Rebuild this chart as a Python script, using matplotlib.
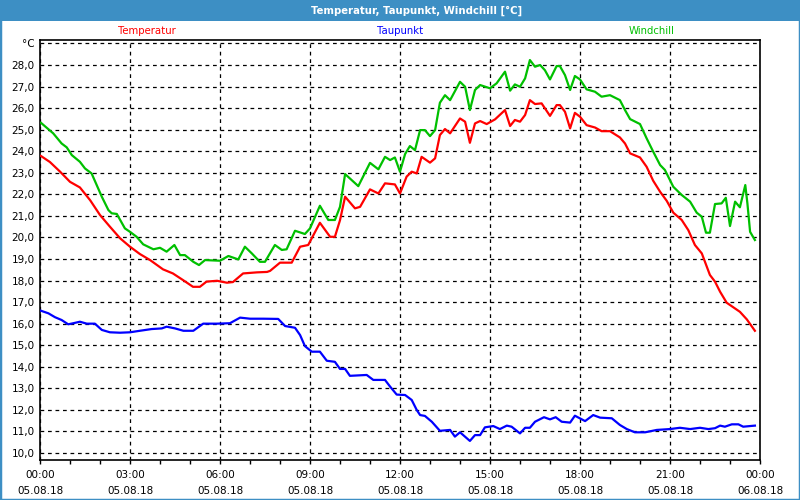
import numpy as np
import matplotlib
matplotlib.use('Agg')
import matplotlib.pyplot as plt
from matplotlib.patches import Rectangle

# values (hours since 05.08.18 00:00)
t_temp = [0.03, 0.33, 0.67, 1.0, 1.33, 1.67, 2.0, 2.33, 2.67, 3.0, 3.33, 3.67, 4.1, 4.43, 4.77,
          5.1, 5.33, 5.55, 5.9, 6.23, 6.43, 6.77, 7.23, 7.57, 7.67, 8.0, 8.39, 8.67, 8.94, 9.33,
          9.67, 9.83, 10.0, 10.17, 10.5, 10.67, 11.0, 11.28, 11.5, 11.83, 12.0, 12.22, 12.39, 12.56, 12.72,
          13.0, 13.17, 13.33, 13.5, 13.67, 14.0, 14.17, 14.33, 14.5, 14.67, 14.89, 15.17, 15.5, 15.67, 15.83,
          16.0, 16.17, 16.33, 16.5, 16.72, 17.0, 17.22, 17.33, 17.5, 17.67, 17.83, 18.0, 18.22, 18.5, 18.72,
          19.0, 19.33, 19.5, 19.67, 20.0, 20.22, 20.44, 20.67, 20.89, 21.11, 21.39, 21.61, 21.83, 22.06, 22.33,
          22.5, 22.67, 22.89, 23.11, 23.33, 23.56, 23.83]
temperatur = [23.78, 23.5, 23.05, 22.58, 22.32, 21.73, 21.04, 20.5, 19.96, 19.57, 19.23, 18.95, 18.52, 18.33, 18.02,
              17.71, 17.71, 17.95, 17.99, 17.9, 17.93, 18.33, 18.38, 18.4, 18.45, 18.83, 18.83, 19.57, 19.65, 20.68,
              20.03, 20.03, 20.8, 21.89, 21.35, 21.42, 22.23, 22.04, 22.51, 22.46, 22.04, 22.82, 23.05, 22.97, 23.74,
              23.47, 23.67, 24.75, 25.03, 24.83, 25.52, 25.37, 24.39, 25.29, 25.4, 25.26, 25.48, 25.91, 25.17, 25.45,
              25.37, 25.68, 26.37, 26.19, 26.22, 25.64, 26.14, 26.14, 25.83, 25.06, 25.78, 25.6, 25.21, 25.1, 24.93,
              24.93, 24.64, 24.36, 23.9, 23.71, 23.28, 22.63, 22.12, 21.7, 21.15, 20.81, 20.34, 19.65, 19.26, 18.26,
              17.95, 17.48, 16.97, 16.76, 16.55, 16.2, 15.67]

t_wc = [0.03, 0.44, 0.72, 0.89, 1.06, 1.33, 1.5, 1.72, 1.89, 2.06, 2.28, 2.39, 2.56, 2.83, 3.0,
        3.22, 3.44, 3.78, 4.0, 4.22, 4.48, 4.67, 4.83, 5.11, 5.3, 5.5, 6.0, 6.28, 6.61, 6.83,
        7.06, 7.33, 7.5, 7.83, 8.06, 8.22, 8.5, 8.83, 9.0, 9.33, 9.61, 9.83, 10.0, 10.17, 10.61,
        11.0, 11.28, 11.5, 11.67, 11.83, 12.0, 12.17, 12.33, 12.5, 12.67, 12.83, 13.0, 13.17, 13.33, 13.5,
        13.67, 14.0, 14.17, 14.33, 14.5, 14.67, 15.0, 15.22, 15.5, 15.67, 15.83, 16.0, 16.17, 16.33, 16.5,
        16.67, 16.83, 17.0, 17.22, 17.33, 17.5, 17.67, 17.83, 18.0, 18.22, 18.5, 18.72, 19.0, 19.33, 19.5,
        19.67, 20.0, 20.22, 20.44, 20.67, 20.83, 21.11, 21.39, 21.67, 21.89, 22.06, 22.2, 22.33, 22.5, 22.72,
        22.86, 23.0, 23.17, 23.33, 23.51, 23.58, 23.67, 23.83]
windchill = [25.32, 24.83, 24.36, 24.18, 23.82, 23.51, 23.2, 22.97, 22.43, 21.89, 21.27, 21.12, 21.09, 20.42, 20.26,
             20.03, 19.68, 19.45, 19.52, 19.34, 19.65, 19.18, 19.18, 18.87, 18.72, 18.95, 18.92, 19.14, 18.98, 19.57,
             19.26, 18.87, 18.87, 19.65, 19.42, 19.45, 20.31, 20.16, 20.42, 21.47, 20.81, 20.81, 21.42, 22.94, 22.38,
             23.46, 23.16, 23.74, 23.59, 23.71, 23.05, 23.87, 24.24, 24.05, 24.98, 24.98, 24.7, 24.98, 26.25, 26.6,
             26.37, 27.22, 26.99, 25.91, 26.84, 27.07, 26.92, 27.15, 27.69, 26.81, 27.1, 26.99, 27.38, 28.23, 27.92,
             28.0, 27.76, 27.33, 27.95, 27.95, 27.53, 26.84, 27.49, 27.33, 26.87, 26.76, 26.53, 26.6, 26.37, 25.91,
             25.49, 25.26, 24.6, 23.98, 23.36, 23.13, 22.35, 21.97, 21.66, 21.15, 20.96, 20.22, 20.22, 21.55, 21.58,
             21.84, 20.53, 21.66, 21.4, 22.43, 21.58, 20.26, 19.88]

t_dew = [0.03, 0.28, 0.5, 0.72, 0.94, 1.11, 1.33, 1.56, 1.83, 2.06, 2.33, 2.67, 3.0, 3.33, 3.72,
         4.06, 4.22, 4.5, 4.78, 5.11, 5.44, 5.89, 6.33, 6.67, 7.0, 7.44, 7.94, 8.17, 8.5, 8.67,
         8.83, 9.06, 9.33, 9.56, 9.83, 10.0, 10.17, 10.33, 10.89, 11.11, 11.5, 11.67, 11.89, 12.17, 12.39,
         12.56, 12.67, 12.83, 13.06, 13.33, 13.67, 13.83, 14.0, 14.33, 14.5, 14.67, 14.83, 15.11, 15.33, 15.56,
         15.72, 16.0, 16.17, 16.33, 16.5, 16.8, 17.0, 17.19, 17.39, 17.67, 17.83, 18.17, 18.44, 18.67, 19.06,
         19.33, 19.56, 19.83, 20.17, 20.56, 21.0, 21.33, 21.67, 22.0, 22.28, 22.5, 22.67, 22.83, 23.06, 23.28,
         23.44, 23.67, 23.83]
taupunkt = [16.6, 16.48, 16.3, 16.17, 15.97, 16.02, 16.09, 16.0, 16.0, 15.71, 15.6, 15.58, 15.6, 15.67, 15.75,
            15.78, 15.86, 15.78, 15.67, 15.67, 16.0, 16.0, 16.02, 16.28, 16.23, 16.23, 16.22, 15.89, 15.81, 15.47,
            14.96, 14.7, 14.7, 14.28, 14.23, 13.9, 13.9, 13.58, 13.62, 13.39, 13.39, 13.08, 12.71, 12.69, 12.46,
            11.99, 11.76, 11.72, 11.45, 11.03, 11.07, 10.76, 10.96, 10.56, 10.83, 10.83, 11.19, 11.25, 11.11, 11.27,
            11.22, 10.91, 11.17, 11.17, 11.45, 11.66, 11.56, 11.66, 11.45, 11.41, 11.73, 11.48, 11.76, 11.64, 11.61,
            11.3, 11.11, 10.96, 10.96, 11.07, 11.11, 11.17, 11.11, 11.17, 11.11, 11.15, 11.27, 11.22, 11.33, 11.33,
            11.22, 11.25, 11.27]

x_ticks = [0, 3, 6, 9, 12, 15, 18, 21, 24]
x_labels = ['00:00\n05.08.18', '03:00\n05.08.18', '06:00\n05.08.18', '09:00\n05.08.18', '12:00\n05.08.18',
            '15:00\n05.08.18', '18:00\n05.08.18', '21:00\n05.08.18', '00:00\n06.08.18']
y_ticks = list(range(10, 30))
y_labels = ['%d,0' % v for v in y_ticks[:-1]] + ['°C']

bar_color = '#3d8fc4'

fig = plt.figure(figsize=(8, 5), dpi=100)
fig.patch.set_facecolor('white')

# title bar and outer frame
fig.patches.append(Rectangle((0, 1 - 21 / 500), 1, 21 / 500, transform=fig.transFigure,
                             facecolor=bar_color, edgecolor='none', zorder=0))
fig.patches.append(Rectangle((0, 0), 1, 1, transform=fig.transFigure, fill=False,
                             edgecolor=bar_color, linewidth=2.5, zorder=5))
fig.text(417 / 800, 1 - 10.5 / 500, 'Temperatur, Taupunkt, Windchill [°C]', color='white',
         fontsize=7.3, fontweight='bold', ha='center', va='center')

# series names above the plot
fig.text(147 / 800, 1 - 31 / 500, 'Temperatur', color='#ff0000', fontsize=7.3, ha='center', va='center')
fig.text(400 / 800, 1 - 31 / 500, 'Taupunkt', color='#0000ff', fontsize=7.3, ha='center', va='center')
fig.text(652 / 800, 1 - 31 / 500, 'Windchill', color='#00c000', fontsize=7.3, ha='center', va='center')

ax = fig.add_axes([40 / 800, 40 / 500, 720 / 800, 420 / 500])
ax.plot(t_temp, temperatur, color='#ff0000', lw=1.6, zorder=3)
ax.plot(t_dew, taupunkt, color='#0000ff', lw=1.6, zorder=3)
ax.plot(t_wc, windchill, color='#00c000', lw=1.6, zorder=3)

ax.set_xlim(0, 24)
ax.set_ylim(9.675, 29.16)
ax.set_xticks(x_ticks)
ax.set_xticklabels(x_labels, fontsize=7.5)
ax.set_xticks(range(0, 25), minor=True)
ax.set_yticks(y_ticks)
ax.set_yticklabels(y_labels, fontsize=7.5)
for lbl in ax.get_xticklabels():
    lbl.set_linespacing(1.75)

ax.tick_params(axis='x', which='both', direction='out', length=3, width=1, pad=4, color='black')
ax.tick_params(axis='y', length=0, pad=4)
ax.grid(True, which='major', color='black', linestyle=(0, (3, 3)), linewidth=0.9)
for s in ax.spines.values():
    s.set_color('black')
    s.set_linewidth(1.2)

fig.savefig('out.png', dpi=100)
